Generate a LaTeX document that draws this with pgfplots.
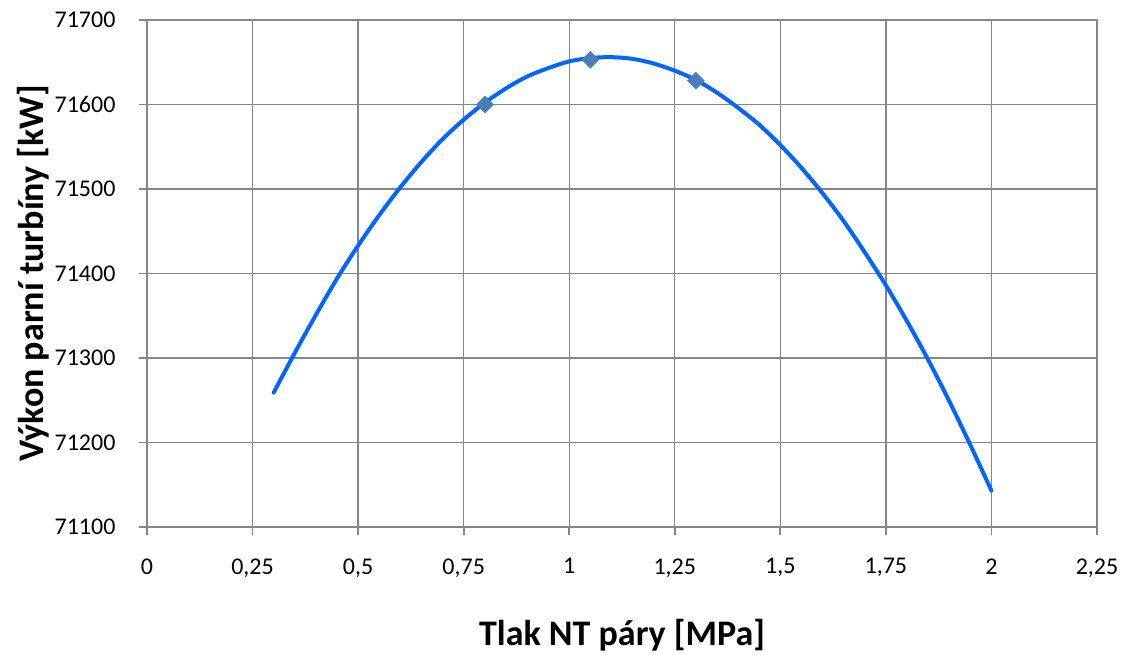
\documentclass[border=0pt]{standalone}
\usepackage{fontspec}
\setmainfont{Carlito}
\usepackage{pgfplots}
\pgfplotsset{compat=1.18}
\definecolor{gridgray}{RGB}{134,134,134}
\definecolor{curveblue}{RGB}{0,102,255}
\definecolor{markblue}{RGB}{74,126,187}
\begin{document}
\begin{tikzpicture}
\useasboundingbox (-147pt,-128pt) rectangle (980pt,527pt);
\begin{axis}[
  at={(0pt,0pt)}, anchor=south west,
  scale only axis, width=950pt, height=507pt,
  xmin=0, xmax=2.25, ymin=71100, ymax=71700,
  scaled y ticks=false, scaled x ticks=false,
  xtick={0,0.25,0.5,0.75,1,1.25,1.5,1.75,2,2.25},
  xticklabels={0,{0,25},{0,5},{0,75},1,{1,25},{1,5},{1,75},2,{2,25}},
  ytick={71100,71200,71300,71400,71500,71600,71700},
  yticklabels={71100,71200,71300,71400,71500,71600,71700},
  tick label style={font=\fontsize{24}{28}\selectfont, text=black},
  xticklabel style={yshift=-20pt},
  yticklabel style={xshift=-20pt},
  grid=major,
  major grid style={gridgray, line width=1.3pt},
  axis line style={gridgray, line width=1.8pt},
  tick style={gridgray, line width=1.8pt},
  tick align=outside, major tick length=8pt,
  axis x line*=bottom, axis y line*=left,
  xlabel={\bfseries Tlak NT páry [MPa]},
  ylabel={\bfseries Výkon parní turbíny [kW]},
  label style={font=\fontsize{36}{42}\selectfont},
  xlabel style={at={(axis description cs:0.5,-0.213)}, anchor=center},
  ylabel style={at={(axis description cs:-0.12,0.5)}, anchor=center},
  clip=false,
]
% measured points
\addplot[only marks, mark=square*, mark size=6pt, mark options={rotate=45, fill=markblue, draw=markblue}]
  coordinates {(0.8,71600) (1.05,71653) (1.3,71628)};
% fitted curve
\addplot[curveblue, line width=4pt, smooth, line cap=round] coordinates {
(0.30,71259) (0.35,71306) (0.40,71351) (0.45,71394) (0.50,71433)
(0.55,71469) (0.60,71502) (0.65,71532) (0.70,71559) (0.75,71582)
(0.80,71602) (0.85,71619) (0.90,71633) (0.95,71643) (1.00,71651)
(1.05,71655) (1.10,71656) (1.15,71654) (1.20,71648.5) (1.25,71640)
(1.30,71629) (1.35,71614) (1.40,71596) (1.45,71576) (1.50,71552)
(1.55,71525) (1.60,71495) (1.65,71462) (1.70,71425) (1.75,71386)
(1.80,71343.5) (1.85,71298) (1.90,71249) (1.95,71197) (2.00,71143)
};
\end{axis}
\end{tikzpicture}
\end{document}
